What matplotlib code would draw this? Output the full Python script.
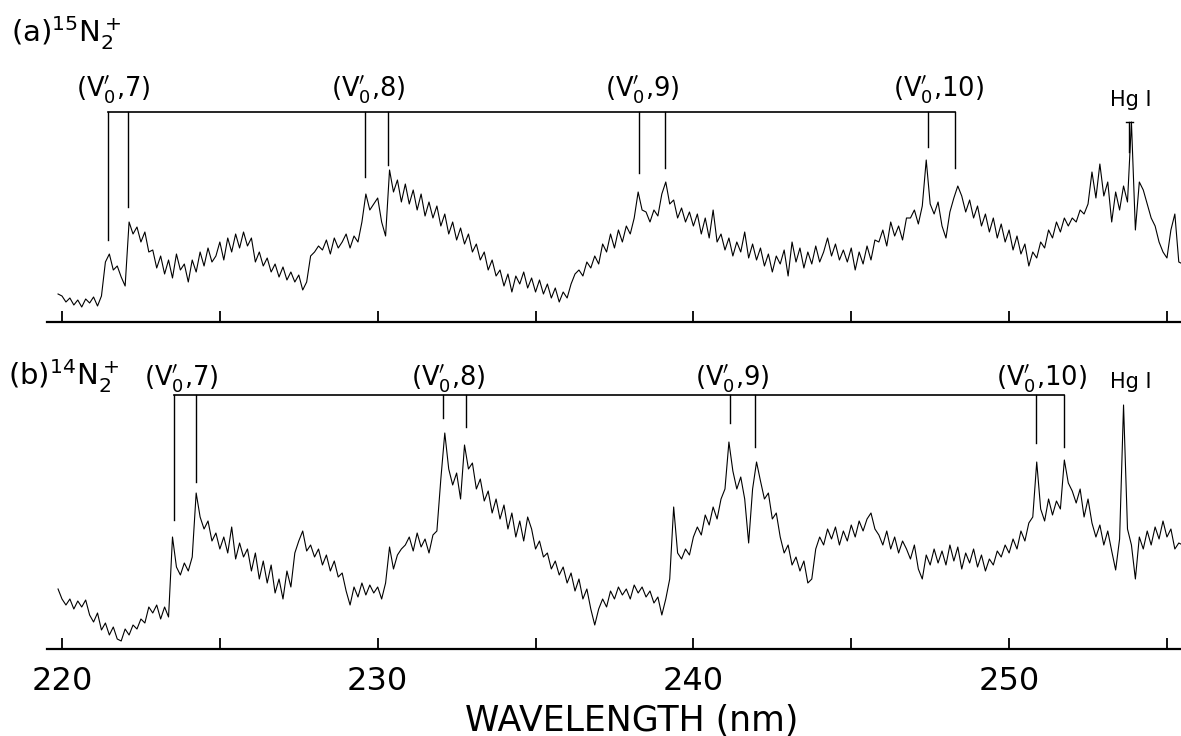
import matplotlib.pyplot as plt
import numpy as np

# spectra are sampled every 0.125 nm starting at 219.875 nm (one row = 1 nm)
wl_start = 219.875
wl_step = 0.125

# (a) 15N2+ emission, arbitrary intensity units
n15_counts = [
    28, 26, 20, 24, 17, 22, 15, 23,
    19, 25, 16, 26, 60, 68, 52, 56,
    45, 36, 100, 88, 95, 80, 90, 70,
    72, 54, 66, 48, 62, 44, 68, 52,
    58, 40, 62, 50, 70, 56, 74, 60,
    66, 80, 62, 84, 70, 88, 74, 90,
    76, 84, 60, 70, 56, 64, 50, 58,
    45, 55, 42, 50, 40, 47, 32, 40,
    66, 70, 76, 72, 82, 68, 84, 74,
    80, 88, 74, 86, 80, 100, 128, 112,
    118, 124, 100, 86, 152, 130, 142, 120,
    138, 118, 132, 112, 128, 106, 120, 104,
    116, 96, 108, 88, 100, 82, 94, 78,
    88, 70, 78, 62, 70, 52, 62, 46,
    52, 36, 48, 30, 46, 38, 50, 34,
    44, 30, 42, 28, 38, 24, 34, 20,
    30, 24, 38, 48, 52, 46, 60, 54,
    66, 58, 78, 70, 88, 74, 92, 80,
    96, 88, 104, 130, 112, 110, 100, 112,
    106, 128, 140, 118, 122, 104, 114, 100,
    110, 96, 108, 88, 104, 84, 112, 80,
    88, 72, 84, 66, 80, 70, 90, 64,
    78, 62, 74, 56, 68, 50, 66, 58,
    72, 46, 80, 60, 74, 54, 70, 58,
    76, 60, 70, 84, 66, 78, 62, 72,
    60, 74, 52, 70, 58, 76, 62, 82,
    80, 92, 76, 100, 86, 96, 82, 104,
    104, 112, 98, 116, 162, 118, 108, 120,
    96, 84, 110, 124, 136, 126, 110, 122,
    104, 116, 96, 108, 90, 104, 84, 98,
    80, 92, 72, 86, 68, 78, 56, 70,
    64, 80, 74, 92, 84, 100, 90, 104,
    96, 104, 100, 112, 108, 118, 150, 124,
    158, 126, 140, 100, 130, 112, 136, 120,
    200, 92, 140, 132, 118, 104, 96, 80,
    70, 64, 92, 108, 60, 58, 56, 56,
]

# (b) 14N2+ emission
n14_counts = [
    60, 50, 44, 50, 40, 48, 42, 49,
    34, 27, 36, 19, 26, 14, 22, 10,
    8, 20, 14, 24, 20, 30, 26, 42,
    36, 44, 30, 42, 32, 112, 82, 74,
    86, 78, 92, 156, 132, 120, 128, 108,
    116, 100, 112, 96, 122, 90, 106, 92,
    100, 78, 96, 70, 88, 66, 84, 56,
    70, 50, 78, 62, 96, 108, 118, 98,
    104, 92, 100, 84, 94, 78, 88, 72,
    76, 58, 44, 62, 52, 66, 54, 64,
    56, 62, 50, 66, 102, 80, 94, 100,
    104, 112, 98, 116, 102, 110, 96, 114,
    118, 170, 216, 180, 164, 176, 150, 204,
    180, 186, 160, 170, 148, 158, 136, 150,
    130, 144, 120, 136, 112, 128, 108, 132,
    120, 100, 108, 92, 96, 80, 88, 74,
    82, 66, 76, 58, 70, 50, 60, 40,
    24, 40, 50, 42, 58, 50, 62, 54,
    60, 50, 64, 56, 62, 52, 58, 46,
    52, 34, 50, 70, 142, 96, 90, 100,
    94, 112, 122, 114, 134, 124, 142, 130,
    150, 160, 207, 178, 160, 172, 150, 106,
    160, 187, 168, 150, 156, 130, 136, 112,
    96, 104, 84, 92, 78, 88, 66, 70,
    100, 112, 104, 120, 110, 122, 104, 118,
    108, 124, 112, 128, 118, 130, 136, 120,
    114, 104, 118, 100, 112, 96, 108, 100,
    90, 104, 80, 70, 94, 84, 100, 86,
    98, 84, 104, 88, 102, 80, 96, 86,
    100, 82, 94, 78, 90, 84, 98, 92,
    104, 96, 110, 100, 118, 108, 126, 132,
    187, 140, 128, 150, 134, 148, 140, 189,
    166, 158, 146, 160, 132, 150, 126, 112,
    124, 104, 118, 98, 79, 110, 244, 120,
    104, 70, 112, 100, 118, 104, 122, 110,
    128, 112, 120, 100, 106, 104, 108, 104,
]

# band heads (v0', v'') : two heads per band, in nm
band_names = ["7", "8", "9", "10"]
n15_heads = [(221.46, 222.09), (229.60, 230.33), (238.28, 239.10), (247.43, 248.30)]
n14_heads = [(223.55, 224.24), (232.07, 232.80), (241.16, 241.95), (250.85, 251.74)]
hg_line = {"a": 253.81, "b": 253.66}

# where the marker lines stop above the trace
n15_head_ends = [(82, 115), (145, 157), (149, 154), (175, 154)]
n14_head_ends = [(129, 167), (231, 222), (226, 202), (206, 202)]
n15_label_x = [221.62, 229.69, 238.37, 247.75]
n14_label_x = [223.77, 232.23, 241.22, 251.04]

plt.rcParams['font.family'] = 'DejaVu Sans'
plt.rcParams['mathtext.fontset'] = 'dejavusans'

W, H = 1181, 736
fig = plt.figure(figsize=(W / 100, H / 100), dpi=100)
ax_a = fig.add_axes([47 / W, (H - 322) / H, 1 - 47 / W, 322 / H])
ax_b = fig.add_axes([47 / W, (H - 649) / H, 1 - 47 / W, 319 / H])


def draw_panel(ax, counts, heads, ends, label_x, bracket_h, label_h, ymax):
    wl = wl_start + wl_step * np.arange(len(counts))
    ax.plot(wl, counts, color='black', lw=0.8)
    ax.plot([heads[0][0], heads[-1][1]], [bracket_h, bracket_h], color='black', lw=1.2)
    for (h1, h2), (e1, e2) in zip(heads, ends):
        ax.plot([h1, h1], [e1, bracket_h], color='black', lw=1.0)
        ax.plot([h2, h2], [e2, bracket_h], color='black', lw=1.0)
    for name, x in zip(band_names, label_x):
        ax.text(x, label_h, r"(V$_0^{\prime}$," + name + ")", ha='center',
                va='baseline', fontsize=18.5)
    ax.set_xlim(219.525, 255.445)
    ax.set_ylim(0, ymax)
    for s in ['top', 'left', 'right']:
        ax.spines[s].set_visible(False)
    ax.spines['bottom'].set_linewidth(1.6)
    ax.set_yticks([])
    ax.set_xticks(np.arange(220, 256, 5))
    ax.tick_params(axis='x', direction='in', length=8, width=1.3, pad=12,
                   labelsize=23)


draw_panel(ax_a, n15_counts, n15_heads, n15_head_ends, n15_label_x, 210, 225, 322)
draw_panel(ax_b, n14_counts, n14_heads, n14_head_ends, n14_label_x, 254, 264, 319)

ax_a.set_xticklabels([])
ax_b.set_xticklabels(['220', '', '230', '', '240', '', '250', ''])

# Hg I reference line
ax_a.plot([hg_line["a"], hg_line["a"]], [170, 200], color='black', lw=1.0)
ax_a.plot([hg_line["a"] - 0.12, hg_line["a"] + 0.12], [200, 200], color='black', lw=1.0)
ax_a.text(hg_line["a"] + 0.05, 216, "Hg I", ha='center', va='baseline', fontsize=15)
ax_b.text(hg_line["b"] + 0.2, 261, "Hg I", ha='center', va='baseline', fontsize=15)

ax_a.text(218.38, 280, r"(a)$^{15}$N$_2^+$", ha='left', va='baseline', fontsize=21)
ax_b.text(218.29, 264, r"(b)$^{14}$N$_2^+$", ha='left', va='baseline', fontsize=21)

fig.text(632 / W, (H - 721) / H, "WAVELENGTH (nm)", ha='center', va='center',
         fontsize=25)

fig.savefig('out.png', dpi=100)
